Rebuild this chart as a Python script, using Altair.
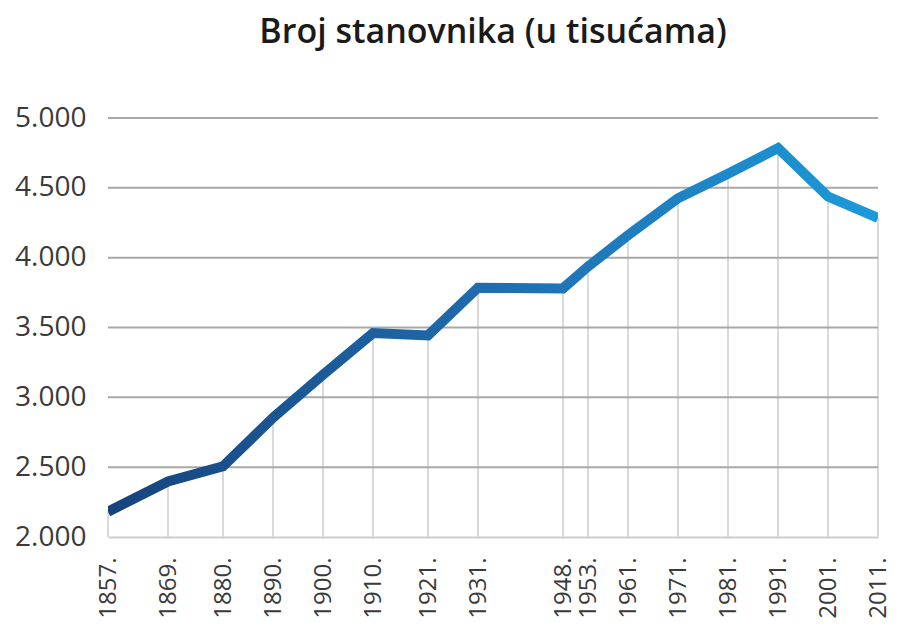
import altair as alt
import pandas as pd

years = [1857, 1869, 1880, 1890, 1900, 1910, 1921, 1931, 1948, 1953, 1961, 1971, 1981, 1991, 2001, 2011]
population = [2181, 2398, 2506, 2854, 3162, 3460, 3443, 3785, 3780, 3936, 4160, 4426, 4601, 4784, 4437, 4285]
y_ticks = [2000, 2500, 3000, 3500, 4000, 4500, 5000]
grid_levels = [2500, 3000, 3500, 4000, 4500, 5000]
title_text = "Broj stanovnika (u tisućama)"

df = pd.DataFrame({"year": years, "value": population})
gdf = pd.DataFrame({"level": grid_levels})

FONT = "Open Sans"

xscale = alt.Scale(domain=[1857, 2011], nice=False, zero=False)
yscale = alt.Scale(domain=[2000, 5000], nice=False, zero=False)

xaxis = alt.Axis(
    values=years, labelExpr="datum.value + '.'", labelAngle=-90,
    grid=False, ticks=False, labelPadding=20, title=None,
    labelFont=FONT, labelFontSize=24, labelColor="#3a3a3a",
    domainColor="#cccccc", domainWidth=2, labelOverlap=False,
)
yaxis = alt.Axis(
    values=y_ticks, labelExpr="replace(format(datum.value, ','), ',', '.')",
    grid=False, ticks=False, domain=False, labelPadding=22, title=None,
    labelFont=FONT, labelFontSize=28, labelColor="#3a3a3a",
)

base = alt.Chart(df)

vrules = base.mark_rule(color="#d9d9d9", strokeWidth=2).encode(
    x=alt.X("year:Q", scale=xscale, axis=xaxis),
    y=alt.Y("value:Q", scale=yscale, axis=yaxis),
    y2=alt.datum(2000),
)

hgrid = alt.Chart(gdf).mark_rule(color="#a8a8a8", strokeWidth=2).encode(
    y=alt.Y("level:Q", scale=yscale),
    x=alt.datum(1857),
    x2=alt.datum(2011),
)

line = base.mark_line(
    strokeWidth=10, clip=True, strokeCap="butt", strokeJoin="miter",
    color=alt.Gradient(
        gradient="linear",
        stops=[alt.GradientStop(color="#17437c", offset=0),
               alt.GradientStop(color="#1f6db0", offset=0.5),
               alt.GradientStop(color="#1b9ad9", offset=1)],
        x1=0, x2=1, y1=0, y2=0,
    ),
).encode(
    x=alt.X("year:Q", scale=xscale),
    y=alt.Y("value:Q", scale=yscale),
)

chart = alt.layer(vrules, hgrid, line).properties(
    width=770, height=419,
    padding={"left": 100, "top": 110, "right": 16, "bottom": 84},
    autosize="none",
    title=alt.TitleParams(title_text, font=FONT, fontSize=34, fontWeight=600,
                          color="#1a1a1a", anchor="middle", offset=54),
).configure_view(stroke=None)

chart.save("out.html", embed_options={"renderer": "svg", "actions": False})
